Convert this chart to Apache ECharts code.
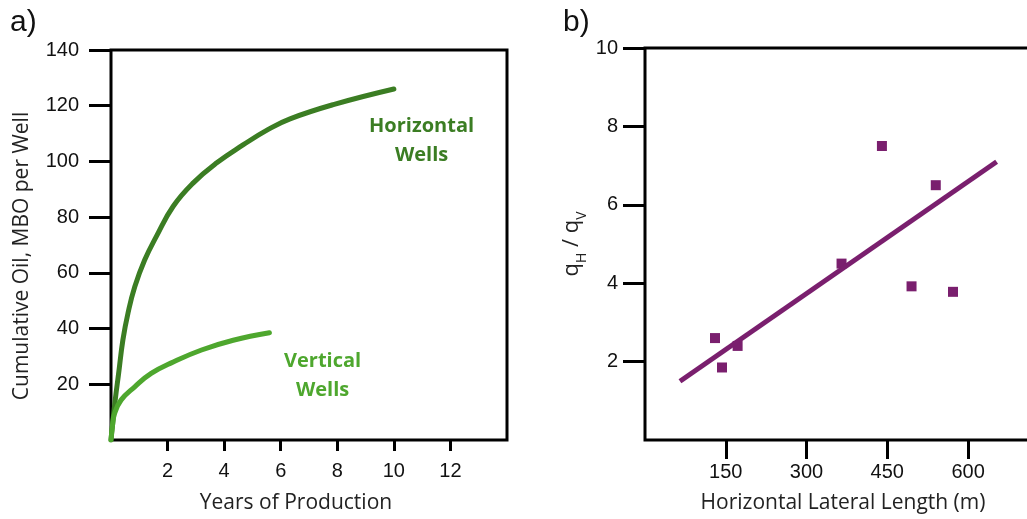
<!DOCTYPE html>
<html>
<head>
<meta charset="utf-8">
<script src="https://cdn.jsdelivr.net/npm/echarts@6/dist/echarts.min.js"></script>
<style>
  html, body { margin: 0; padding: 0; background: #fff; }
  #chart { width: 1027px; height: 519px; }
</style>
</head>
<body>
<div id="chart"></div>
<script>
// panel a) cumulative oil curves
const horizYears = [0, 0.15, 0.27, 0.42, 0.6, 0.84, 1.19, 1.6, 2.2, 2.91, 3.74, 4.68, 5.56, 6.33, 7.86, 10]
const horizOil = [0, 14.4, 23.9, 35.9, 45.5, 55, 64.6, 73, 83.9, 92.3, 99.5, 106, 111.5, 115.3, 120.4, 126]
const vertYears = [0, 0.05, 0.13, 0.36, 0.84, 1.42, 2.2, 3.2, 4.32, 5.6]
const vertOil = [0, 5, 9.6, 14.4, 19.1, 23.9, 28, 32.3, 35.8, 38.5]
const yearTicks = [2, 4, 6, 8, 10, 12]
const oilTicks = [20, 40, 60, 80, 100, 120, 140]

// panel b) rate ratio vs lateral length
const lateralLength = [130, 143, 172, 365, 440, 495, 540, 572]
const rateRatio = [2.6, 1.85, 2.4, 4.5, 7.5, 3.92, 6.5, 3.78]
const trendX = [65, 653]
const trendY = [1.5, 7.1]
const lengthTicks = [150, 300, 450, 600]
const ratioTicks = [2, 4, 6, 8, 10]

const darkGreen = '#3b7d23'
const lightGreen = '#4ea72e'
const purple = '#7a1f6e'
const tickFont = { fontFamily: 'Liberation Sans', fontSize: 20, color: '#111' }
const nameFont = { fontFamily: 'Open Sans', fontSize: 21, color: '#222' }

const zip = (xs, ys) => xs.map((x, i) => [x, ys[i]])

const chart = echarts.init(document.getElementById('chart'))

const option = {
  animation: false,
  title: [
    { text: 'a)', left: 5, top: 3, textStyle: { fontFamily: 'Liberation Sans', fontSize: 30, fontWeight: 'normal', color: '#111' } },
    { text: 'b)', left: 558, top: 3, textStyle: { fontFamily: 'Liberation Sans', fontSize: 30, fontWeight: 'normal', color: '#111' } }
  ],
  grid: [
    { left: 111, top: 50, width: 396, height: 390, outerBoundsMode: 'none', show: true, borderColor: '#000', borderWidth: 3 },
    { left: 645, top: 48, width: 420, height: 392, outerBoundsMode: 'none', show: true, borderColor: '#000', borderWidth: 3 }
  ],
  xAxis: [
    {
      gridIndex: 0, type: 'value', min: 0, max: 14,
      name: 'Years of Production', nameLocation: 'middle', nameGap: 53,
      nameTextStyle: Object.assign({ padding: [0, 26, 0, 0] }, nameFont),
      axisLine: { show: false },
      splitLine: { show: false },
      axisTick: { show: true, length: 11, customValues: yearTicks, lineStyle: { color: '#000', width: 3 } },
      axisLabel: Object.assign({ margin: 21, customValues: yearTicks }, tickFont)
    },
    {
      gridIndex: 1, type: 'value', min: 0, max: 780,
      name: 'Horizontal Lateral Length (m)', nameLocation: 'middle', nameGap: 53,
      nameTextStyle: Object.assign({ padding: [0, 24, 0, 0] }, nameFont),
      axisLine: { show: false },
      splitLine: { show: false },
      axisTick: { show: true, length: 19, customValues: lengthTicks, lineStyle: { color: '#000', width: 3 } },
      axisLabel: Object.assign({ margin: 22, customValues: lengthTicks }, tickFont)
    }
  ],
  yAxis: [
    {
      gridIndex: 0, type: 'value', min: 0, max: 140,
      name: 'Cumulative Oil, MBO per Well', nameLocation: 'middle', nameGap: 78, nameRotate: 90,
      nameTextStyle: Object.assign({ padding: [0, 22, 0, 0] }, nameFont),
      axisLine: { show: false },
      splitLine: { show: false },
      axisTick: { show: true, length: 22, customValues: oilTicks, lineStyle: { color: '#000', width: 3 } },
      axisLabel: Object.assign({ margin: 32, customValues: oilTicks }, tickFont)
    },
    {
      gridIndex: 1, type: 'value', min: 0, max: 10,
      name: '{q|q}{s|H}{q| / q}{s|V}', nameLocation: 'middle', nameGap: 56, nameRotate: 90,
      nameTextStyle: {
        rich: {
          q: { fontFamily: 'Open Sans', fontSize: 22, color: '#222', verticalAlign: 'top' },
          s: { fontFamily: 'Open Sans', fontSize: 14, color: '#222', verticalAlign: 'bottom', padding: [14, 0, 0, 0] }
        }
      },
      axisLine: { show: false },
      splitLine: { show: false },
      axisTick: { show: true, length: 22, customValues: ratioTicks, lineStyle: { color: '#000', width: 3 } },
      axisLabel: Object.assign({ margin: 27, customValues: ratioTicks }, tickFont)
    }
  ],
  series: [
    {
      name: 'Horizontal Wells', type: 'line', xAxisIndex: 0, yAxisIndex: 0,
      data: zip(horizYears, horizOil),
      smooth: 0.45, showSymbol: false,
      lineStyle: { color: darkGreen, width: 5, cap: 'round' },
      markPoint: {
        symbolSize: 0,
        data: [{ coord: [10.98, 107.5] }],
        label: {
          show: true, formatter: 'Horizontal\nWells', position: 'inside',
          fontFamily: 'Open Sans', fontWeight: 'bold', fontSize: 20, lineHeight: 29,
          color: darkGreen, align: 'center', verticalAlign: 'middle'
        }
      }
    },
    {
      name: 'Vertical Wells', type: 'line', xAxisIndex: 0, yAxisIndex: 0,
      data: zip(vertYears, vertOil),
      smooth: 0.45, showSymbol: false,
      lineStyle: { color: lightGreen, width: 5, cap: 'round' },
      markPoint: {
        symbolSize: 0,
        data: [{ coord: [7.48, 23] }],
        label: {
          show: true, formatter: 'Vertical\nWells', position: 'inside',
          fontFamily: 'Open Sans', fontWeight: 'bold', fontSize: 20, lineHeight: 29,
          color: lightGreen, align: 'center', verticalAlign: 'middle'
        }
      }
    },
    {
      name: 'Trend', type: 'line', xAxisIndex: 1, yAxisIndex: 1,
      data: zip(trendX, trendY),
      showSymbol: false,
      lineStyle: { color: purple, width: 5 }
    },
    {
      name: 'Wells', type: 'scatter', xAxisIndex: 1, yAxisIndex: 1,
      data: zip(lateralLength, rateRatio),
      symbol: 'rect', symbolSize: 10,
      itemStyle: { color: purple, opacity: 1 }
    }
  ]
}

chart.setOption(option)
</script>
</body>
</html>
